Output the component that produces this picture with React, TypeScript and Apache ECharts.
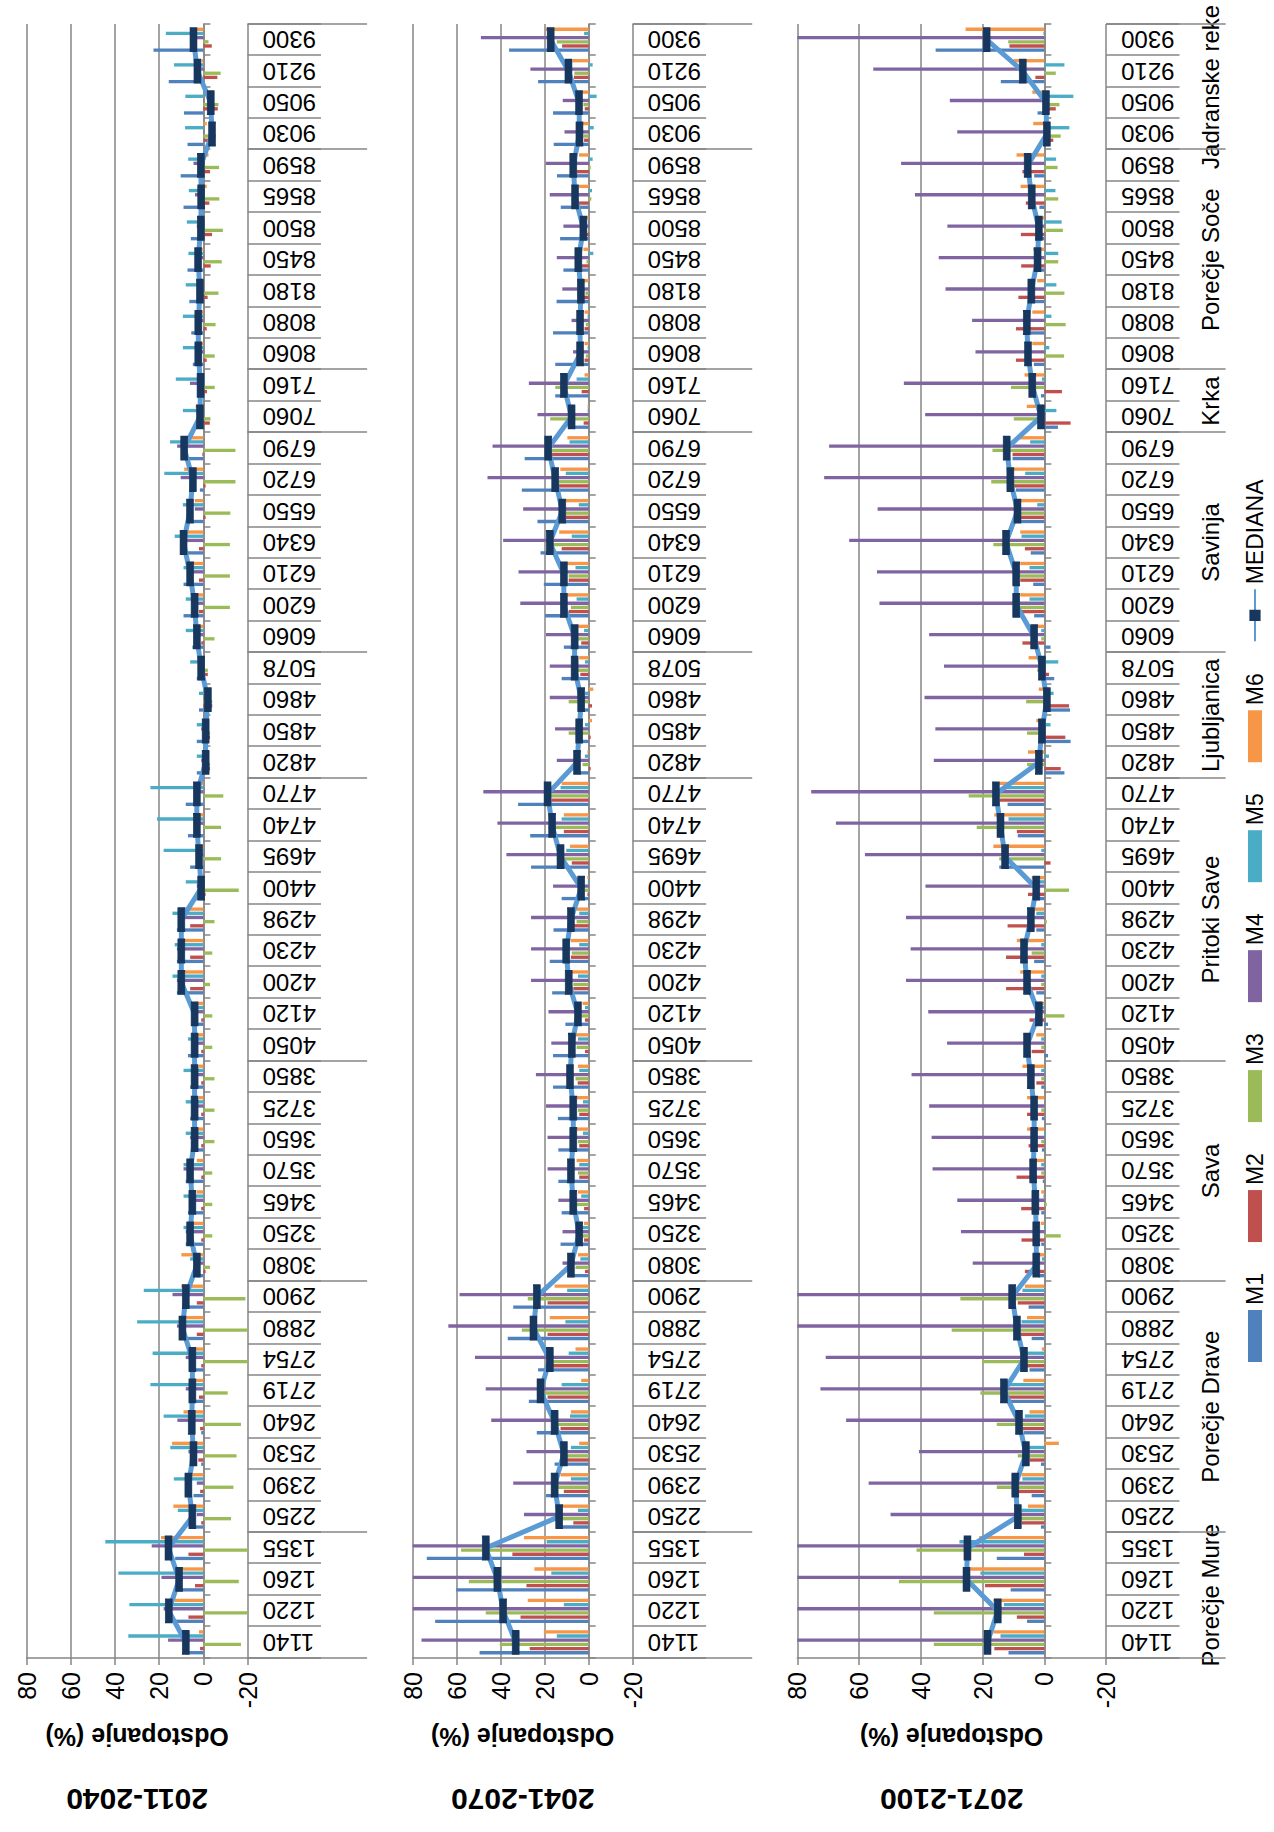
import React, { useEffect, useRef } from "react";
import * as echarts from "echarts";

// ---------------- DATA ----------------
const stations = [
  "1140", "1220", "1260", "1355",
  "2250", "2390", "2530", "2640", "2719", "2754", "2880", "2900",
  "3080", "3250", "3465", "3570", "3650", "3725", "3850",
  "4050", "4120", "4200", "4230", "4298", "4400", "4695", "4740", "4770",
  "4820", "4850", "4860", "5078",
  "6060", "6200", "6210", "6340", "6550", "6720", "6790",
  "7060", "7160",
  "8060", "8080", "8180", "8450", "8500", "8565", "8590",
  "9030", "9050", "9210", "9300",
];
const groupNames = ["Porečje Mure", "Porečje Drave", "Sava", "Pritoki Save", "Ljubljanica", "Savinja", "Krka", "Porečje Soče", "Jadranske reke"];
const groupSizes = [4, 8, 7, 9, 4, 7, 2, 7, 4];
const periods = ["2011-2040", "2041-2070", "2071-2100"];
const modelNames = ["M1", "M2", "M3", "M4", "M5", "M6"];
const medianName = "MEDIANA";
const valueTicks = [-20, 0, 20, 40, 60, 80];
const axisTitle = "Odstopanje (%)";

// 2011-2040
const p1M1 = [8, 12.5, 12.4, 12.8, 3.8, 4.5, 1, 1, 5, 6, 9, 8, 3, 8, 7, 8, 5, 6, 6, 7, 5, 12, 12, 12, 4, 6, 7, 8, 3, 3, 2, 3, 5, 9, 9, 10, 4.8, 1.6, 7.1, 2, 2, 4.8, 5.5, 6.4, 7.2, 5.7, 9, 10.3, 7.2, 8.8, 15.7, 22.6];
const p1M2 = [1.5, 6.8, 3.8, 6.8, 1, 1.5, 2.3, 1.5, 2, 1, 3, 3, -1, 1, 1, 1, 1, 1, 1, 1, 1, 6, 6, 6, -1, 0, 0, 0, -3, -3, -4, -2, 1, 2, 2, 2, -1, -1, 0.5, -2.9, -1.6, -1.5, -1.5, -1.9, -3.3, -3.9, -2.7, -3, -5.3, -6.5, -6.3, -3.8];
const p1M3 = [-17, -21, -16, -21, -12.5, -13.6, -15, -17, -11, -21, -22, -19, -3, -4, -4, -4, -5, -5, -5, -4, -4, -3, -4, -5, -16, -8, -8, -9, -3, -3, -4, -2, -5, -12, -12, -12, -12.2, -14.5, -14.5, -3.2, -5.1, -5.1, -5.5, -6.8, -8.3, -8.8, -7.2, -7.1, -5.6, -6.8, -7.8, -2.3];
const p1M4 = [16, 18, 19, 23.4, 3, 3, 6.8, 11.8, 8, 8, 12, 14, 3, 8, 6, 9, 6, 5, 4, 3, 4, 12, 12, 11, 3, 3, 4, 4, 1, 1, 0, 2, 4, 5, 7, 9, 3.9, 10.3, 11.9, 1, 6.1, 2, 2, 2, 1.5, 3, 3.8, 4.5, -0.3, -0.3, 1, 3.3];
const p1M5 = [34, 33.5, 38.5, 44.4, 11.6, 13.4, 15, 18, 24, 23, 30, 27, 6, 9, 9, 9, 8, 8, 9, 7, 6, 14, 13, 14, 8, 18, 21, 24, 3, 3, 2, 6, 8, 8, 9, 13, 9.3, 17.7, 15.1, 9.3, 12.5, 9.3, 9.3, 8, 6.8, 7.5, 6.6, 6.9, 8.3, 8.2, 13.3, 17];
const p1M6 = [2, 13, 9.5, 19.2, 13.6, 8.3, 14.2, 9, 4, 5, 8, 10, 10, 5, 3, 3, 3, 2, 2, 4, 4, 10, 10, 9, 2, 2, 3, 3, -1, -1, -2, 1, 3, 5, 6, 9, 3.9, 8.7, 8, 3.5, 1, 1, 1, 0.8, 0.5, -0.6, -1.5, -2.3, -1.5, 0, 0.8, 3];
const p1Med = [8, 15.7, 11, 15.8, 5, 6.8, 4.5, 5.3, 5, 5, 9.5, 8, 3, 6, 5, 6, 4, 4, 4, 4, 4, 10, 10, 10, 1, 2, 3, 3, -1, -1, -2, 1, 3, 4, 6, 9, 6.1, 4.8, 8.7, 1.6, 1.3, 2.3, 2.3, 1.6, 2.4, 1.2, 1, 1.2, -3.9, -3.3, 2.7, 4.5];

// 2041-2070
const p2M1 = [49.6, 69.8, 60.2, 73.6, 14.5, 19.4, 15.5, 23.6, 27.2, 23, 36.8, 34.3, 9.1, 12.8, 12.3, 13.8, 13.8, 14, 16.2, 16.2, 10.6, 16.6, 17.7, 16, 12.3, 26.2, 26.6, 32.1, 4.3, 3.4, 3.8, 12.3, 11.3, 19.8, 20.4, 21.9, 23.3, 30.4, 29.1, 8.7, 15.2, 15.2, 16.2, 14.6, 11.5, 13, 12.7, 14.4, 15.9, 16.2, 23, 36.2];
const p2M2 = [26.8, 31, 28.3, 34.7, 7, 11.3, 10.2, 12.8, 18.7, 16.6, 18.7, 18.7, 1.7, 2.1, 2.1, 4.3, 4.3, 4.3, 5, 1.7, 1.7, 7, 8.1, 7, 0.6, 7.7, 11.3, 17, -0.9, -0.9, -1.5, 3.8, 3.4, 9.1, 9.1, 12.3, 10.4, 13.6, 16.8, 2.3, 3.2, 1.9, 1.9, 2.4, 3.2, 0.9, 4.4, 5.5, 2.1, 1.8, 6.7, 12.1];
const p2M3 = [40.4, 46.8, 54.5, 58, 13.4, 14.9, 11.3, 16.6, 19.8, 17.7, 30.4, 27.7, 6, 3.8, 6, 4.9, 4.9, 4.9, 6, 5.5, 3.4, 7, 7.7, 5.5, 1.7, 14.5, 18.3, 19.1, 2.8, 9.1, 9.1, 4.9, 4.9, 8.1, 9.1, 16.6, 10.4, 13.6, 16.8, 17.5, 15.2, 1.3, 1.3, 1.5, 1, -0.3, -1.2, -0.9, 2.4, 2.4, 6.5, 14.5];
const p2M4 = [76, 80, 80, 80, 29.4, 34.3, 28.3, 44.3, 46.8, 51.7, 63.8, 58.7, 11.9, 11.9, 13.8, 18.7, 18.7, 19.4, 24, 17, 18.3, 26.2, 26.2, 26.2, 16.2, 37.4, 41.5, 47.9, 14.5, 15.3, 17.7, 17.7, 19.4, 31.1, 31.9, 38.9, 29.8, 46, 43.7, 23.3, 27.2, 7.1, 7.8, 12, 14.5, 11.5, 17.7, 19.5, 11, 11.8, 26.5, 49];
const p2M5 = [14.5, 11.3, 17, 19.1, 4.9, 8.1, 8.1, 8.5, 12.3, 9.1, 10.6, 9.8, 3.8, 2.8, 3.4, 4.3, 2.6, 2.6, 4.3, 4.9, 1.7, 4.9, 4.3, 4.3, 0.4, 10.2, 12.3, 12.8, 1.7, 1.7, 1.7, 1.7, 2.1, 5.5, 6, 7.7, 4.5, 10.4, 8.7, 0.5, 5.5, 0.5, 0.5, 0.3, -2.1, 0, -1.5, -1.8, -2.3, -3.6, -1.8, 2.1];
const p2M6 = [20.4, 27.7, 24.7, 29.4, 12.3, 12.8, 4.3, 8.1, 3.4, 6, 17.7, 15.5, 4.9, 2.1, 4.9, 5.5, 5.5, 5.5, 4.9, 6, 2.8, 8.1, 8.1, 5.5, 0.6, 8.5, 11.3, 12.3, 0.6, -1.5, -2.1, 4.3, 6, 10.2, 10.6, 13.4, 10.4, 12.9, 9.7, 0.5, 1.9, 1.9, 1.9, 2.1, 2.4, 0.9, 4.4, 4.4, 2.7, 2.9, 7.4, 19.5];
const p2Med = [33.2, 38.9, 41.5, 46.8, 13.4, 15.5, 11.3, 15.5, 21.9, 17.7, 25.1, 23.6, 8.1, 4.3, 7, 8.1, 7, 7, 8.5, 7.7, 4.9, 9.1, 10.2, 8.1, 3.4, 12.8, 16.6, 18.7, 5.3, 4.3, 3.4, 6.4, 6.4, 11.3, 11.3, 17.7, 12, 15.2, 18.4, 7.8, 11.3, 3.9, 3.9, 3.6, 4.7, 2.4, 6.2, 7, 4.2, 4.4, 9.2, 17.3];

// 2071-2100
const p3M1 = [11.6, 5.6, 10.9, 15.4, 1.1, 4.1, 1.1, 6.6, 13.1, 4.8, 4.1, 5.1, 1.8, 1, 1, 0.5, 0.8, 0.8, 1, -1.2, -1.2, 2.6, 3.3, 2.6, 2.6, 14.6, 8.6, 11.9, -6.5, -8.5, -8.3, -3.2, -2, 3.3, 3.6, 4.4, 8, 9.2, 10.3, -4.4, 1.1, 3.4, 4.6, 4, 2, 1, 1.6, 3.3, 0.3, 2.2, 14.1, 35.2];
const p3M2 = [16.2, 8.9, 19.2, 6.6, 7.4, 8.6, 4.8, 7.1, 12.4, 6.3, 8.9, 8.6, 6.3, 7.4, 7.5, 9, 5.1, 5.6, 2.6, 4.1, 4.8, 12.4, 12.4, 11.9, 5.3, -2, 8.9, 14.6, -5.3, -6.8, -8, -1.5, 7.1, 7.8, 7.8, 6.3, 8, 9.9, 10.3, -8.5, -5.7, 9.2, 9.2, 8.4, 7.5, 7.6, 6, 7.1, -2.9, -3.7, 2.9, 11.3];
const p3M3 = [35.8, 35.8, 47.1, 41.4, 8.6, 15.4, 8.6, 15.4, 20.7, 20.2, 30, 27.2, 0, -5.3, -0.8, 1, 1, 1, 1, 1, -6.5, 1, 4.1, -0.8, -8, 14.6, 21.9, 24.5, 5.6, 5.6, 5.9, 2.3, 1, 8.6, 8.6, 16.5, 8, 17.2, 16.8, 9.9, 10.8, -6.4, -6.9, -6.5, -4.5, -6, -4.5, -4.3, -5.3, -4.9, -3.7, 11.7];
const p3M4 = [80, 80, 80, 80, 49.8, 56.9, 40.6, 64.2, 72.5, 70.8, 80, 80, 23.2, 27, 28.2, 36.2, 36.5, 37.3, 43, 31.5, 37.6, 44.8, 43.3, 44.8, 38.5, 58.1, 67.5, 75.5, 35.8, 35.3, 38.8, 32.5, 37.3, 53.4, 54.2, 63.2, 54, 71.3, 69.7, 38.6, 45.5, 22.3, 23.4, 32, 34.2, 31.4, 41.9, 46.4, 28.2, 30.6, 55.4, 80];
const p3M5 = [14.2, 13.1, 20.7, 27.5, 7.4, 7.1, 6, 6.3, 13.1, 7.1, 7.4, 7.1, 0.8, -0.5, 0.3, 1, -0.5, 0, 1, 1, 0.8, 1, 1, 2.6, 2.6, 1, 11.6, 13.1, -1.5, -2, -3, -4.5, 1, 4.8, 4.8, 7.4, 2.3, 6.2, 4.6, -3.9, 0.8, -1.6, -2.3, -3.9, -4.5, -5.6, -3.6, -3.8, -8.1, -9.4, -6.5, 0.3];
const p3M6 = [16.5, 16.5, 24, 21.1, 5.3, 7.4, -4.7, 4.8, 6.8, 0.8, 5.6, 6.3, 2.6, 1.1, 1, 4.8, 5.6, 5.6, 7.1, 2.6, 1.8, 7.8, 8.9, 5.3, 4.1, 16.5, 16.2, 14.6, 5.3, 2.6, 1.8, 5.1, 4.1, 7.8, 7.8, 7.8, 7.6, 10.3, 8, 5.7, 6.4, 3.9, 3.9, 2.3, 3.6, 0.9, 7.7, 9, 3.6, 3.9, 10, 25.5];
const p3Med = [18.4, 15.1, 25.2, 24.9, 8.6, 9.4, 6, 8.2, 13.1, 6.6, 8.9, 10.4, 2.6, 2.6, 2.9, 3.6, 3.3, 3.3, 4.4, 5.6, 1.8, 5.6, 6.6, 4.4, 2.6, 12.7, 14.2, 15.7, 1.8, 0.8, -0.8, 0.8, 3.3, 9.1, 9.1, 12.4, 8.7, 11, 12.2, 1.1, 3.9, 5.3, 5.7, 4.2, 2.2, 1.8, 4.1, 5.4, -0.8, -0.5, 7, 18.7];

const periodModels = [
  [p1M1, p1M2, p1M3, p1M4, p1M5, p1M6],
  [p2M1, p2M2, p2M3, p2M4, p2M5, p2M6],
  [p3M1, p3M2, p3M3, p3M4, p3M5, p3M6],
];
const periodMedians = [p1Med, p2Med, p3Med];

// ---------------- STYLE / LAYOUT ----------------
const W = 1832;
const H = 1274;
const FONT = "'Liberation Sans', Arial, Helvetica, sans-serif";
const GRAY = "#868686";
const modelColors = ["#4F81BD", "#C0504D", "#9BBB59", "#8064A2", "#4BACC6", "#F79646"];
const MED_LINE = "#5B9BD5";
const MED_MARK = "#17375E";
const GRID_LEFT = 174;
const GRID_RIGHT = 24;
const panelBoxes = [
  { top: 26.7, height: 220.9 },
  { top: 412.7, height: 220 },
  { top: 797.3, height: 308.8 },
];
const TABLE_W = 73.4;
const GROUP_W = 119.5;

function groupStarts(): number[] {
  const s: number[] = [];
  let acc = 0;
  groupSizes.forEach((n) => {
    s.push(acc);
    acc += n;
  });
  return s;
}

function buildOption() {
  const starts = groupStarts();
  const grid: any[] = [];
  const xAxis: any[] = [];
  const yAxis: any[] = [];
  const series: any[] = [];

  panelBoxes.forEach((b, p) => {
    grid.push({ left: GRID_LEFT, right: GRID_RIGHT, top: b.top, height: b.height, containLabel: false, outerBoundsMode: "none" });
    // axis at zero with small ticks
    xAxis.push({
      type: "category", gridIndex: p, data: stations, position: "bottom", boundaryGap: true,
      axisLine: { show: true, onZero: true, lineStyle: { color: GRAY, width: 1.5 } },
      axisTick: { show: true, interval: 0, length: 7, inside: false, lineStyle: { color: GRAY, width: 1.5 } },
      axisLabel: { show: false }, splitLine: { show: false },
    });
    // label table axis
    xAxis.push({
      type: "category", gridIndex: p, data: stations, position: "bottom", boundaryGap: true,
      axisLine: { show: false, onZero: false },
      axisTick: { show: true, interval: 0, length: TABLE_W, lineStyle: { color: GRAY, width: 1.5 } },
      axisLabel: { show: true, interval: 0, rotate: 90, margin: 15, fontSize: 24, fontFamily: FONT, color: "#000" },
      splitLine: { show: false },
    });
    // group separators
    xAxis.push({
      type: "category", gridIndex: p, data: stations, position: "bottom", boundaryGap: true,
      axisLine: { show: false, onZero: false },
      axisTick: { show: true, interval: (i: number) => starts.indexOf(i) >= 0, length: GROUP_W, lineStyle: { color: GRAY, width: 1.5 } },
      axisLabel: { show: false }, splitLine: { show: false },
    });
    yAxis.push({
      type: "value", gridIndex: p, min: valueTicks[0], max: valueTicks[valueTicks.length - 1], interval: 20,
      axisLine: { show: true, onZero: false, lineStyle: { color: GRAY, width: 1.5 } },
      axisTick: { show: true, length: 7, lineStyle: { color: GRAY, width: 1.5 } },
      axisLabel: { fontSize: 25, margin: 14, fontFamily: FONT, color: "#000" },
      splitLine: { show: true, lineStyle: { color: GRAY, width: 1.5 } },
      name: axisTitle, nameLocation: "middle", nameRotate: 90, nameGap: 66, nameMoveOverlap: false,
      nameTextStyle: { fontSize: 25, fontWeight: "bold", fontFamily: FONT, color: "#000" },
    });
    periodModels[p].forEach((vals, m) => {
      series.push({
        type: "bar", name: modelNames[m], xAxisIndex: p * 3, yAxisIndex: p, data: vals,
        itemStyle: { color: modelColors[m] }, barCategoryGap: "23%", barGap: "25%", clip: true,
      });
    });
    series.push({
      type: "line", name: medianName, xAxisIndex: p * 3, yAxisIndex: p, data: periodMedians[p],
      symbol: "rect", symbolSize: [23, 7], showAllSymbol: true, z: 5,
      itemStyle: { color: MED_MARK, borderColor: MED_MARK },
      lineStyle: { color: MED_LINE, width: 5 },
    });
  });

  return {
    animation: false,
    backgroundColor: "#ffffff",
    textStyle: { fontFamily: FONT },
    grid, xAxis, yAxis, series,
    legend: {
      left: 465, top: 1238, orient: "horizontal",
      itemWidth: 52, itemHeight: 14, itemGap: 31,
      textStyle: { fontSize: 23, lineHeight: 24, fontFamily: FONT, color: "#000" },
      data: [...modelNames.map((n) => ({ name: n, icon: "rect" })), { name: medianName }],
    },
  };
}

export default function App() {
  const ref = useRef<HTMLDivElement>(null);
  useEffect(() => {
    if (!ref.current) return;
    const chart = echarts.init(ref.current, null, { renderer: "svg", width: W, height: H });
    chart.setOption(buildOption() as any);

    const starts = groupStarts();
    const graphic: any[] = [];
    panelBoxes.forEach((b, p) => {
      const cy = chart.convertToPixel({ yAxisIndex: p } as any, 30) as unknown as number;
      graphic.push({
        type: "text", x: GRID_LEFT - 141, y: cy, rotation: Math.PI / 2,
        style: { text: periods[p], fontSize: 30, fontWeight: "bold", fontFamily: FONT, fill: "#000", align: "center", verticalAlign: "middle" },
      });
    });
    const last = panelBoxes[panelBoxes.length - 1];
    const gy = last.top + last.height + (TABLE_W + GROUP_W) / 2 + 8;
    groupNames.forEach((g, i) => {
      const a = chart.convertToPixel({ xAxisIndex: 6 } as any, starts[i]) as unknown as number;
      const c = chart.convertToPixel({ xAxisIndex: 6 } as any, starts[i] + groupSizes[i] - 1) as unknown as number;
      graphic.push({
        type: "text", x: (a + c) / 2, y: gy,
        style: { text: g, fontSize: 24, fontFamily: FONT, fill: "#000", align: "center", verticalAlign: "middle" },
      });
    });
    chart.setOption({ graphic });
    return () => chart.dispose();
  }, []);

  return (
    <div
      style={{
        position: "absolute", left: 0, top: 0, width: W, height: H,
        transformOrigin: "0 0", transform: `translateY(${W}px) rotate(-90deg)`, background: "#fff",
      }}
    >
      <div ref={ref} style={{ width: W, height: H }} />
    </div>
  );
}
